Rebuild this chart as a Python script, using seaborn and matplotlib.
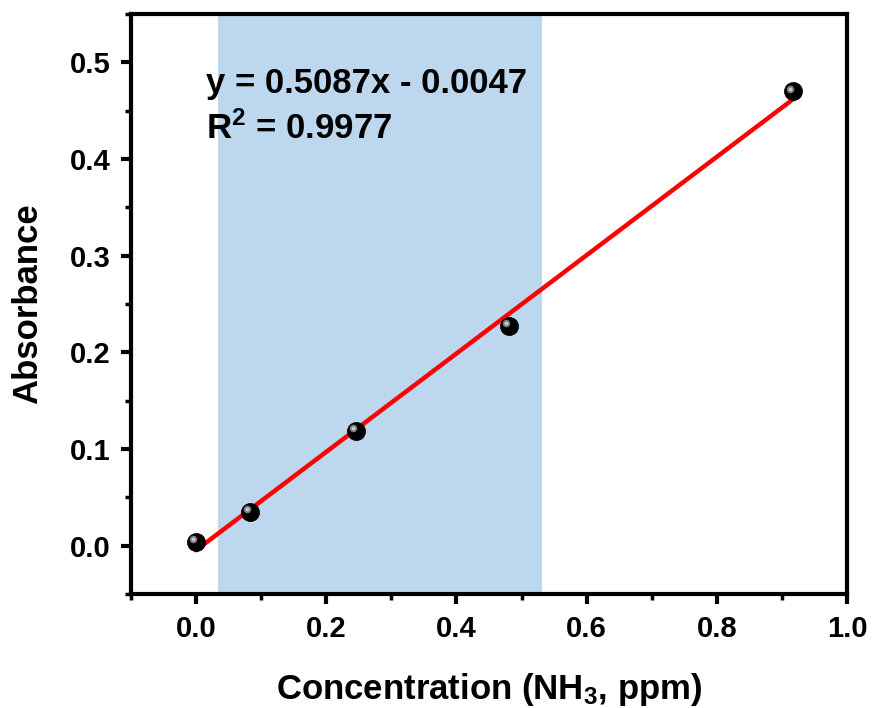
import numpy as np
import pandas as pd
import seaborn as sns
import matplotlib.pyplot as plt
from matplotlib.ticker import MultipleLocator
from matplotlib import transforms

# data
conc = [0.0, 0.083, 0.246, 0.480, 0.917]
absorbance = [0.004, 0.035, 0.119, 0.227, 0.470]
slope = 0.5087
intercept = -0.0047
shade_range = [0.034, 0.531]

sns.set_style("ticks")
plt.rcParams['font.family'] = ['Liberation Sans', 'DejaVu Sans']
plt.rcParams['font.weight'] = 'bold'
plt.rcParams['mathtext.default'] = 'regular'
plt.rcParams['text.color'] = 'black'
plt.rcParams['axes.labelcolor'] = 'black'

fig = plt.figure(figsize=(8.74, 7.08), dpi=100)
ax = fig.add_axes([131 / 874, 1 - 594 / 708, 716 / 874, 580 / 708])

df = pd.DataFrame({"conc": conc, "abs": absorbance})
fit = pd.DataFrame({"conc": [min(conc), max(conc)]})
fit["abs"] = slope * fit["conc"] + intercept

ax.axvspan(shade_range[0], shade_range[1], color="#bcd7ee", lw=0, zorder=0)

sns.lineplot(data=fit, x="conc", y="abs", ax=ax, color="red", lw=3.2, zorder=2)
sns.scatterplot(data=df, x="conc", y="abs", ax=ax, color="black", s=170,
                edgecolor="black", linewidth=0.5, zorder=3)
# highlight to mimic the shaded spheres
hl = transforms.offset_copy(ax.transData, fig=fig, x=-2, y=2, units="points")
ax.scatter(conc, absorbance, s=30, color="#7a7a7a", transform=hl, zorder=4, lw=0)
ax.scatter(conc, absorbance, s=8, color="#c8c8c8", transform=hl, zorder=5, lw=0)

ax.text(0.015, 0.478, "y = 0.5087x - 0.0047", fontsize=25, fontweight="bold",
        va="center", ha="left", color="black")
ax.text(0.015, 0.432, "R$^2$ = 0.9977", fontsize=25, fontweight="bold",
        va="center", ha="left", color="black")

ax.set_xlim(-0.1, 1.0)
ax.set_ylim(-0.05, 0.55)
ax.xaxis.set_minor_locator(MultipleLocator(0.1))
ax.yaxis.set_minor_locator(MultipleLocator(0.05))
ax.set_xticks([0.0, 0.2, 0.4, 0.6, 0.8, 1.0])
ax.set_yticks([0.0, 0.1, 0.2, 0.3, 0.4, 0.5])

for s in ax.spines.values():
    s.set_linewidth(3)
    s.set_visible(True)
    s.set_color("black")
ax.tick_params(which="major", direction="out", length=7, width=3, labelsize=21,
               pad=8, colors="black")
ax.tick_params(which="minor", direction="out", length=4, width=2.5, colors="black")
for lab in ax.get_xticklabels() + ax.get_yticklabels():
    lab.set_fontweight("bold")

ax.set_xlabel("Concentration (NH$_3$, ppm)", fontsize=25, fontweight="bold", labelpad=20)
ax.set_ylabel("Absorbance", fontsize=25, fontweight="bold", labelpad=18)

fig.savefig("out.png", dpi=100)
